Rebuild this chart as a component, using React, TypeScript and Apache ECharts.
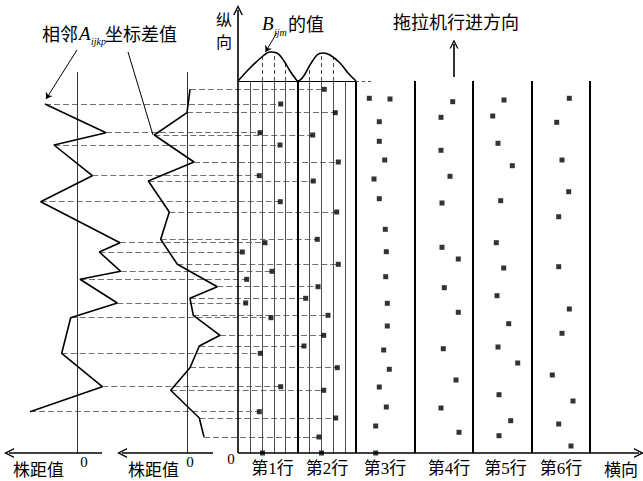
import React, { useEffect, useRef } from 'react';
import * as echarts from 'echarts';

// ---------------- data (lateral = 横向, longitudinal = 纵向) ----------------
// Row 1 plants (dashed links go to the first 株距值 panel)
const row1Long = [349, 320.3, 308, 277.3, 251.3, 210.3, 201, 181.7, 173.7, 150, 135.3, 99.7, 66.3, 41.3];
const row1Lat = [42.7, 22, 42, 21.3, 42.3, 27, 4.3, 34, 8.7, 7.7, 33, 22.3, 42.7, 21.3];
const panel1Value = [32.3, -28.7, 23.3, -15, 36.6, -42.7, -22, -43.4, -2.7, -40, 6.6, 15.6, -25, 47.3];

// Row 2 plants (dashed links go to the second 株距值 panel)
const row2Long = [363.7, 340.3, 318, 291, 272, 241, 213.7, 188.7, 166.3, 154.7, 137.7, 117.7, 107, 85.3, 62.7, 35, 16];
const row2Lat = [86.3, 97.3, 74.7, 100.3, 75.3, 98.7, 79.3, 100.3, 80, 67.7, 90, 85.7, 66, 99.3, 85.7, 97.7, 81];
const panel2Value = [-2.7, 0.3, 33, -6.7, 39, 18, 26.6, 10, -30, -2.7, -6, -32.7, -12, -2.7, 16.6, -12, -16.7];

const row3Long = [354.7, 354, 331.3, 311.7, 293, 274, 254.3, 223.7, 201.3, 176.3, 149.7, 127, 103, 83.7, 66, 46, 27];
const row3Lat = [131.3, 152, 141.3, 141.3, 146.7, 136, 141.3, 147.3, 148.3, 147.7, 149.3, 149.3, 145.7, 151.3, 141.3, 148.3, 137.7];

const row4Long = [351.3, 335.7, 302.7, 276.7, 250, 205.7, 194, 165.3, 140.7, 104.3, 73, 45, 20.7];
const row4Lat = [214.7, 203, 203, 212, 204, 204, 220.3, 206.3, 220.3, 205.3, 218, 203, 221];

const row5Long = [353, 337, 309.7, 287.3, 252.3, 210.3, 185, 157.3, 129.3, 106, 90, 58.3, 32.3, 17.3];
const row5Lat = [266, 254.7, 260, 274.3, 262.7, 258.3, 265.7, 259, 270.7, 260, 279.7, 261, 272.7, 261];

const row6Long = [354.7, 330.7, 293, 261.3, 236.3, 186.3, 144, 119.7, 78, 52, 29, 7];
const row6Lat = [331.3, 318.7, 324, 330.7, 320.7, 320.7, 331.3, 324, 314.3, 335, 320.7, 333];

// plants on the lateral axis
const axisPlantLat = [24.5, 83.5, 137.7];

// B_ijm curve over rows 1-2
const humpLat = [0, 12, 25, 32, 39, 46, 52, 57, 59.7, 65, 72, 79, 85, 92, 102, 110, 118];
const humpLong = [372, 385, 397, 401, 400, 392, 382, 375, 372, 376, 388, 398, 400, 398, 390, 380, 372];
const humpTickLat = [24.4, 36, 47.7, 71.3, 83.7, 95.3];
const humpTickTop = [397, 400.5, 390, 387, 400, 396];

// structure
const rowBounds = [59.7, 118, 177, 235, 294, 352];
const innerLines = [12.7, 24.4, 36, 47.7, 71.3, 83.7, 95.3, 107];
const panelZero = [-160.7, -50.7];
const rowTop = 372;

const rowLabels = ['第1行', '第2行', '第3行', '第4行', '第5行', '第6行'];

// ---------------- styles ----------------
const CJK = '"Noto Sans CJK SC", sans-serif';
const MIX = '"Liberation Serif", "Noto Sans CJK SC", serif';
const SERIF = '"Liberation Serif", "DejaVu Serif", serif';
const openArrow = 'path://M0,10 L5,0 L10,10 L8.5,10 L5,3 L1.5,10 Z';

type P = [number, number];
const seg = (a: P, b: P) => ({ coords: [a, b] });

const lines = (data: any[], lineStyle: any, extra: any = {}) => ({
  type: 'lines',
  coordinateSystem: 'cartesian2d',
  polyline: false,
  silent: true,
  data,
  lineStyle: { opacity: 1, ...lineStyle },
  ...extra,
});

const txt = (text: string, x: number, y: number, size: number, family: string, align = 'left', extra: any = {}) => ({
  type: 'text',
  x,
  y,
  silent: true,
  style: {
    text,
    fill: '#000',
    fontSize: size,
    fontFamily: family,
    align,
    verticalAlign: 'middle',
    textAlign: align,
    textVerticalAlign: 'middle',
    ...extra,
  },
});

export default function App() {
  const ref = useRef<HTMLDivElement>(null);

  useEffect(() => {
    const chart = echarts.init(ref.current!, null, { renderer: 'svg' });

    const rows = [
      [row1Lat, row1Long],
      [row2Lat, row2Long],
      [row3Lat, row3Long],
      [row4Lat, row4Long],
      [row5Lat, row5Long],
      [row6Lat, row6Long],
    ];
    const points: P[] = [];
    rows.forEach(([lat, lon]) => lat.forEach((x, i) => points.push([x, lon[i]])));
    axisPlantLat.forEach((x) => points.push([x, 0]));

    const panel1: P[] = panel1Value.map((v, i) => [panelZero[0] - v, row1Long[i]]);
    const panel2: P[] = panel2Value.map((v, i) => [panelZero[1] - v, row2Long[i]]);

    const links = [
      ...panel1.map((p, i) => seg(p, [row1Lat[i], row1Long[i]])),
      ...panel2.map((p, i) => seg(p, [row2Lat[i], row2Long[i]])),
    ];

    const option: any = {
      animation: false,
      backgroundColor: '#fff',
      grid: { left: 0, top: 0, right: 0, bottom: 0, containLabel: false },
      xAxis: { type: 'value', min: -238, max: 405, show: false, splitLine: { show: false } },
      yAxis: { type: 'value', min: -28, max: 453, show: false, splitLine: { show: false } },
      series: [
        // dashed links from the spacing panels to the plants
        lines(links, { color: '#707070', width: 1, type: [6, 3] }, { z: 2 }),
        // inner sub-row lines
        lines(innerLines.map((x) => seg([x, 0], [x, rowTop])), { color: '#505050', width: 1 }, { z: 3 }),
        // row boundary lines
        lines(rowBounds.map((x) => seg([x, 0], [x, rowTop])), { color: '#000', width: 2 }, { z: 3 }),
        // top base line of the curve
        lines([seg([0, rowTop], [rowBounds[1], rowTop])], { color: '#000', width: 1 }, { z: 3 }),
        lines([seg([rowBounds[1], rowTop], [rowBounds[1] + 18, rowTop])], { color: '#555', width: 1, type: [3, 3] }, { z: 3 }),
        // dashed ticks under the curve
        lines(humpTickLat.map((x, i) => seg([x, rowTop], [x, humpTickTop[i]])), { color: '#444', width: 1, type: [4, 3] }, { z: 3 }),
        // B_ijm curve
        {
          type: 'line',
          data: humpLat.map((x, i) => [x, humpLong[i]]),
          smooth: 0.35,
          showSymbol: false,
          symbol: 'none',
          silent: true,
          lineStyle: { color: '#000', width: 1.6 },
          z: 4,
        },
        // panel zero lines
        lines(panelZero.map((x) => seg([x, 0], [x, 381])), { color: '#333', width: 1 }, { z: 3 }),
        // panel polylines
        {
          type: 'line',
          data: panel1,
          showSymbol: false,
          symbol: 'none',
          silent: true,
          lineStyle: { color: '#000', width: 1.6 },
          z: 4,
        },
        {
          type: 'line',
          data: panel2,
          showSymbol: false,
          symbol: 'none',
          silent: true,
          lineStyle: { color: '#000', width: 1.6 },
          z: 4,
        },
        // main axes
        lines([seg([0, 0], [0, 443]), seg([0, 0], [401, 0])], { color: '#000', width: 1.6 }, {
          symbol: ['none', openArrow],
          symbolSize: 10,
          z: 5,
        }),
        // 株距值 axes
        lines([seg([-136, 0], [-229, 0]), seg([-25, 0], [-116, 0])], { color: '#000', width: 1.6 }, {
          symbol: ['none', openArrow],
          symbolSize: 10,
          z: 5,
        }),
        // travel direction arrow
        lines([seg([216, 376], [216, 409])], { color: '#000', width: 1.6 }, {
          symbol: ['none', openArrow],
          symbolSize: 9,
          z: 5,
        }),
        // leader lines
        lines([seg([-161, 403], [-192, 354]), seg([38.7, 420], [27.5, 401])], { color: '#000', width: 1 }, {
          symbol: ['none', 'arrow'],
          symbolSize: 6,
          z: 5,
        }),
        lines([seg([-110, 401], [-85, 318])], { color: '#000', width: 1 }, { z: 5 }),
        // plants
        {
          type: 'scatter',
          data: points,
          symbol: 'rect',
          symbolSize: 5,
          silent: true,
          itemStyle: { color: '#000' },
          z: 6,
        },
      ],
      graphic: [
        txt('纵', 224, 19, 16, CJK, 'center'),
        txt('向', 224, 41, 16, CJK, 'center'),
        txt('B', 262, 23, 19, SERIF, 'left', { fontStyle: 'italic' }),
        txt('ijm', 274, 32, 10, SERIF, 'left', { fontStyle: 'italic' }),
        txt('的值', 288, 23, 18, CJK),
        txt('拖拉机行进方向', 393, 21, 18, CJK),
        txt('相邻', 42, 33, 18, CJK),
        txt('A', 79, 33, 19, SERIF, 'left', { fontStyle: 'italic' }),
        txt('ijkp', 91, 41, 10, SERIF, 'left', { fontStyle: 'italic' }),
        txt('坐标差值', 105, 33, 18, CJK),
        txt('株距值', 13, 468, 17, CJK),
        txt('0', 84, 462, 15, SERIF, 'center'),
        txt('株距值', 128, 468, 17, CJK),
        txt('0', 190, 462, 15, SERIF, 'center'),
        txt('0', 231, 459, 15, SERIF, 'center'),
        txt(rowLabels[0], 272.5, 468, 17, MIX, 'center'),
        txt(rowLabels[1], 327, 468, 17, MIX, 'center'),
        txt(rowLabels[2], 385, 468, 17, MIX, 'center'),
        txt(rowLabels[3], 449, 468, 17, MIX, 'center'),
        txt(rowLabels[4], 505.5, 468, 17, MIX, 'center'),
        txt(rowLabels[5], 561, 468, 17, MIX, 'center'),
        txt('横向', 621, 468, 17, CJK, 'center'),
      ],
    };

    chart.setOption(option);
    return () => chart.dispose();
  }, []);

  return (
    <div
      ref={ref}
      style={{ position: 'absolute', left: 0, top: 0, width: 643, height: 481, background: '#fff' }}
    />
  );
}
